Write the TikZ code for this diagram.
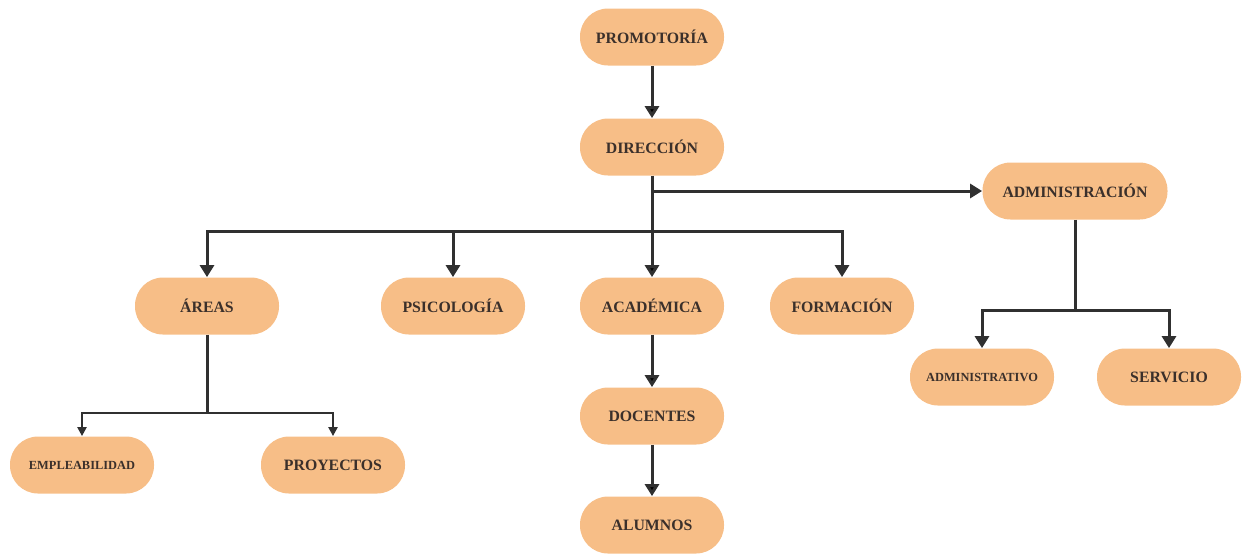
\documentclass[tikz,border=0pt]{standalone}
\usepackage{fontspec}
\setmainfont{Liberation Serif}
\usetikzlibrary{arrows.meta}
\definecolor{boxfill}{HTML}{F7BE87}
\definecolor{boxtext}{HTML}{3B302B}
\definecolor{linegray}{HTML}{303030}

\begin{document}
\begin{tikzpicture}[%
    x=0.5pt, y=-0.5pt,
    unit/.style = {fill=boxfill, rounded corners=14pt, minimum width=72pt,
        minimum height=28.5pt, inner sep=0pt, text=boxtext,
        font=\bfseries\fontsize{7.9}{9.5}\selectfont},
    small unit/.style = {unit, font=\bfseries\fontsize{6.2}{8}\selectfont},
    wire/.style = {draw=linegray, line width=1.5pt},
    link/.style = {wire, -{Triangle[width=7pt,length=6pt]}},
    small link/.style = {wire, line width=1.1pt, -{Triangle[width=4.5pt,length=4.5pt]}}
]
\useasboundingbox (0,0) rectangle (1248,554);

\node (promotoria) [unit] at (652,37) {PROMOTORÍA};
\node (direccion) [unit] at (652,147) {DIRECCIÓN};
\node (administracion) [unit, minimum width=92.5pt] at (1075,191) {ADMINISTRACIÓN};
\node (areas) [unit] at (207,306) {ÁREAS};
\node (psicologia) [unit] at (453,306) {PSICOLOGÍA};
\node (academica) [unit] at (652,306) {ACADÉMICA};
\node (formacion) [unit] at (842,306) {FORMACIÓN};
\node (empleabilidad) [small unit] at (82,465) {EMPLEABILIDAD};
\node (proyectos) [unit] at (333,465) {PROYECTOS};
\node (docentes) [unit] at (652,416) {DOCENTES};
\node (alumnos) [unit] at (652,525) {ALUMNOS};
\node (administrativo) [small unit] at (982,377) {ADMINISTRATIVO};
\node (servicio) [unit] at (1169,377) {SERVICIO};

\coordinate (bus) at (652,231);
\coordinate (areasbus) at (207,413);
\coordinate (adminbus) at (1075,310);

\path[link]
    (promotoria) edge (direccion)
    (direccion) edge (academica)
    (academica) edge (docentes)
    (docentes) edge (alumnos);
\draw[link] (direccion.south) |- (administracion.west);
\foreach \n in {areas, psicologia, formacion} {
    \draw[link] (bus) -| (\n.north);
}
\draw[wire] (areas.south) -- (areasbus);
\foreach \n in {empleabilidad, proyectos} {
    \draw[small link] (areasbus) -| (\n.north);
}
\draw[wire] (administracion.south) -- (adminbus);
\foreach \n in {administrativo, servicio} {
    \draw[link] (adminbus) -| (\n.north);
}
\end{tikzpicture}
\end{document}
